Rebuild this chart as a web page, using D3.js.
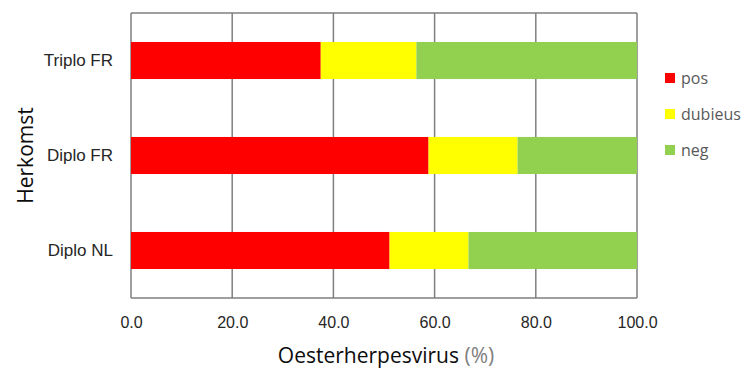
<!DOCTYPE html>
<html>
<head>
<meta charset="utf-8">
<script src="https://cdn.jsdelivr.net/npm/d3@7"></script>
<style>
  body { margin: 0; background: #fff; }
  svg { font-family: "Open Sans", "Noto Sans", sans-serif; }
</style>
</head>
<body>
<div id="chart"></div>
<script>
// Categories, top to bottom
const categories = ["Triplo FR", "Diplo FR", "Diplo NL"];
// Series values (%)
const pos = [37.5, 58.8, 51.1];
const dubieus = [18.9, 17.6, 15.6];
const neg = [43.6, 23.6, 33.3];
const seriesNames = ["pos", "dubieus", "neg"];
const seriesColors = ["#ff0000", "#ffff00", "#92d050"];
const xTicks = [0, 20, 40, 60, 80, 100];

const width = 747, height = 370;
const margin = { top: 13, right: 110, bottom: 72, left: 131 };

const svg = d3.select("#chart").append("svg")
    .attr("width", width)
    .attr("height", height);

// build a table for the stack layout
const table = categories.map((c, i) => ({ cat: c, pos: pos[i], dubieus: dubieus[i], neg: neg[i] }));
const stacked = d3.stack().keys(seriesNames)(table);

const x = d3.scaleLinear()
    .domain([0, 100])
    .range([margin.left, width - margin.right]);

const y = d3.scaleBand()
    .domain(categories)
    .range([margin.top, height - margin.bottom])
    .paddingInner(0.61)
    .paddingOuter(0.305);

// vertical gridlines
svg.append("g")
    .selectAll("line")
    .data(xTicks)
    .enter().append("line")
    .attr("x1", d => x(d)).attr("x2", d => x(d))
    .attr("y1", margin.top).attr("y2", height - margin.bottom)
    .attr("stroke", "#7f7f7f")
    .attr("stroke-width", 1.5);

// bars
svg.append("g")
    .selectAll("g")
    .data(stacked)
    .enter().append("g")
    .attr("fill", (d, i) => seriesColors[i])
    .selectAll("rect")
    .data(d => d)
    .enter().append("rect")
    .attr("x", d => x(d[0]))
    .attr("width", d => x(d[1]) - x(d[0]))
    .attr("y", d => y(d.data.cat))
    .attr("height", y.bandwidth());

// plot frame (top + bottom lines)
svg.append("line")
    .attr("x1", margin.left).attr("x2", width - margin.right)
    .attr("y1", height - margin.bottom).attr("y2", height - margin.bottom)
    .attr("stroke", "#7f7f7f").attr("stroke-width", 1.5);
svg.append("line")
    .attr("x1", margin.left).attr("x2", width - margin.right)
    .attr("y1", margin.top).attr("y2", margin.top)
    .attr("stroke", "#7f7f7f").attr("stroke-width", 1.5);

// x axis labels
const xAxis = svg.append("g")
    .attr("transform", `translate(0,${height - margin.bottom})`)
    .call(d3.axisBottom(x).tickValues(xTicks).tickFormat(d3.format(".1f")).tickSize(0).tickPadding(19));
xAxis.select(".domain").remove();
xAxis.selectAll("text")
    .style("font-size", "16px")
    .attr("fill", "#262626");

// y axis labels
const yAxis = svg.append("g")
    .attr("transform", `translate(${margin.left},0)`)
    .call(d3.axisLeft(y).tickSize(0).tickPadding(18));
yAxis.select(".domain").remove();
yAxis.selectAll("text")
    .style("font-size", "17px")
    .attr("fill", "#262626");

// axis titles
const xt = svg.append("text")
    .attr("x", (margin.left + width - margin.right) / 2 + 2)
    .attr("y", 363)
    .attr("text-anchor", "middle")
    .style("font-size", "21px")
    .attr("fill", "#0d0d0d");
xt.append("tspan").text("Oesterherpesvirus ");
xt.append("tspan").attr("fill", "#808080").text("(%)");

svg.append("text")
    .attr("transform", `translate(33,${(margin.top + height - margin.bottom) / 2}) rotate(-90)`)
    .attr("text-anchor", "middle")
    .style("font-size", "21px")
    .attr("fill", "#0d0d0d")
    .text("Herkomst");

// legend
const legend = svg.append("g")
    .selectAll("g")
    .data(seriesNames)
    .enter().append("g")
    .attr("transform", (d, i) => `translate(665,${78 + i * 36})`);
legend.append("rect")
    .attr("x", 0).attr("y", -5)
    .attr("width", 10).attr("height", 10)
    .attr("fill", (d, i) => seriesColors[i]);
legend.append("text")
    .attr("x", 16).attr("y", 0)
    .attr("dy", "0.35em")
    .style("font-size", "16px")
    .attr("fill", "#595959")
    .text(d => d);
</script>
</body>
</html>
